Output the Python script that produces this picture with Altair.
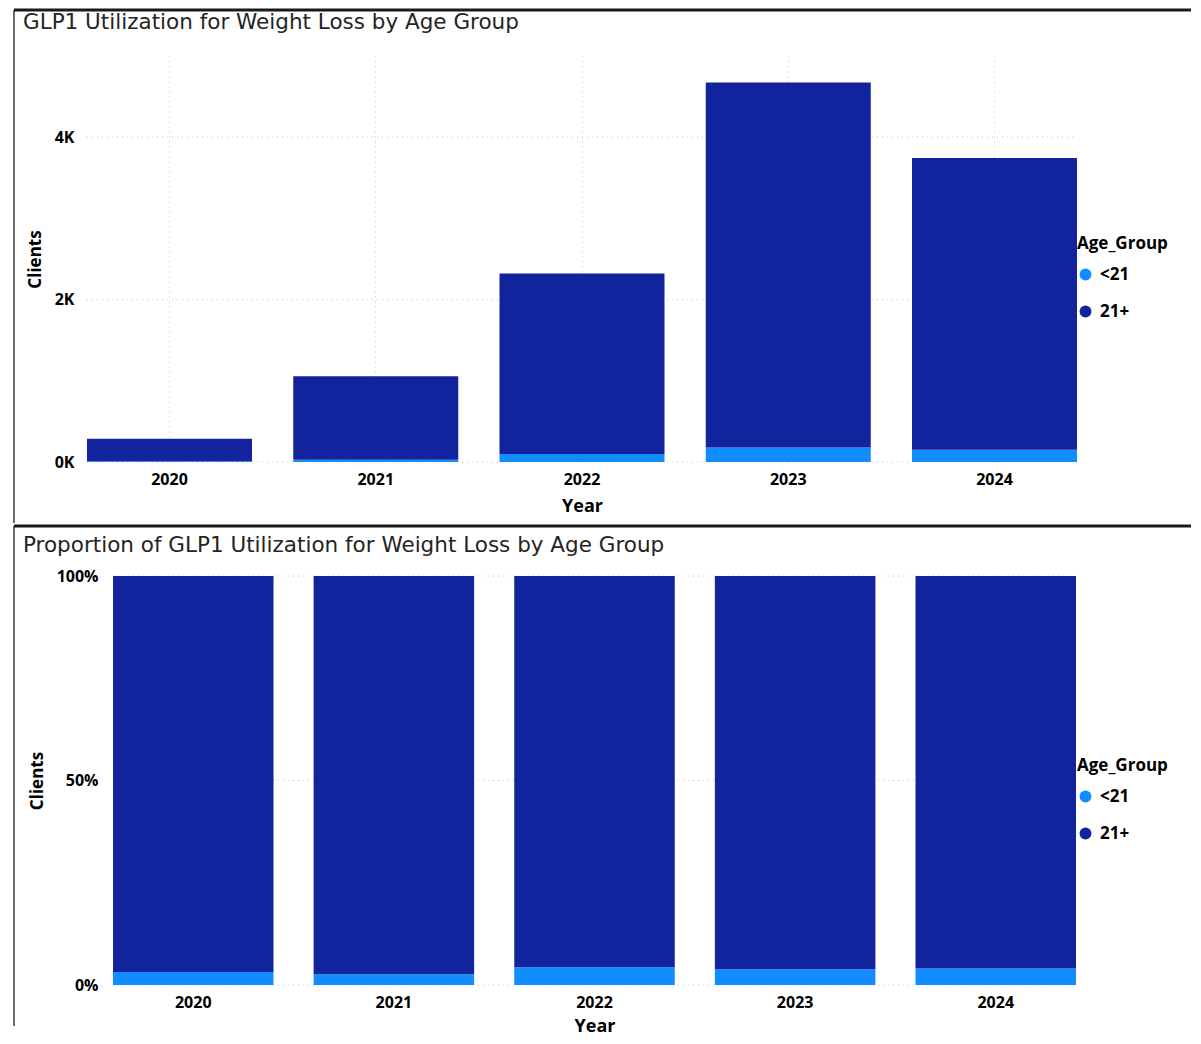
import altair as alt
import pandas as pd

years = ["2020", "2021", "2022", "2023", "2024"]
under21 = [9, 28, 100, 180, 152]
over21 = [276, 1027, 2220, 4495, 3593]
groups = ["<21", "21+"]
colors = ["#118DFF", "#12239E"]

rows = []
for i, y in enumerate(years):
    rows.append({"Year": y, "Age_Group": "<21", "Clients": under21[i], "ord": 0})
    rows.append({"Year": y, "Age_Group": "21+", "Clients": over21[i], "ord": 1})
df = pd.DataFrame(rows)
one = pd.DataFrame({"a": [0]})

TITLE_FONT = "DejaVu Sans"
AX_FONT = "Open Sans"
GRID = "#C8C6C4"


def legend(lx, ly):
    return alt.Legend(
        orient="none", legendX=lx, legendY=ly, title="Age_Group",
        titleFont=AX_FONT, titleFontSize=17, titleFontWeight="bold", titleColor="#000000",
        titlePadding=13, labelFont=AX_FONT, labelFontSize=17, labelFontWeight="bold",
        labelColor="#000000", symbolType="circle", symbolSize=140, symbolStrokeWidth=0,
        labelOffset=6, rowPadding=19,
    )


def panel(title, w, h, xrange, ydomain, yvals, ylabel_expr, stack, xgrid, lx, ly,
          rule_top, rule_bottom, hline_y, title_y, ypad, yoffset, xtitlepad):
    base = alt.Chart(df)
    bars = base.mark_bar().encode(
        x=alt.X("Year:N", sort=years, title="Year",
                scale=alt.Scale(paddingInner=0.2, paddingOuter=0, range=xrange),
                axis=alt.Axis(labelAngle=0, grid=xgrid, bandPosition=0.5, gridDash=[1, 4],
                              gridColor=GRID, domain=False, ticks=False, labelPadding=9,
                              titlePadding=xtitlepad)),
        y=alt.Y("Clients:Q", stack=stack, title="Clients",
                scale=alt.Scale(domain=ydomain, nice=False),
                axis=alt.Axis(values=yvals, labelExpr=ylabel_expr, grid=False,
                              domain=False, ticks=False, labelPadding=ypad,
                              titlePadding=10, offset=yoffset)),
        color=alt.Color("Age_Group:N", scale=alt.Scale(domain=groups, range=colors),
                        legend=legend(lx, ly)),
        order=alt.Order("ord:Q", sort="ascending"),
    )
    grid = alt.Chart(pd.DataFrame({"v": yvals})).mark_rule(
        color=GRID, strokeDash=[1, 4], strokeWidth=1).encode(
        y=alt.Y("v:Q", scale=alt.Scale(domain=ydomain, nice=False)),
        x=alt.value(xrange[0]), x2=alt.value(xrange[1]))
    vline = alt.Chart(one).mark_rule(color="#6b6b6b", strokeWidth=2).encode(
        x=alt.value(-73), y=alt.value(rule_top), y2=alt.value(rule_bottom))
    hline = alt.Chart(one).mark_rule(color="#1a1a1a", strokeWidth=3).encode(
        x=alt.value(-73), x2=alt.value(1104), y=alt.value(hline_y))
    ttl = alt.Chart(one).mark_text(
        text=title, align="left", baseline="middle", font=TITLE_FONT, fontSize=21.5,
        color="#252423").encode(x=alt.value(-64), y=alt.value(title_y))
    return alt.layer(grid, bars, vline, hline, ttl).properties(width=w, height=h)


top = panel("GLP1 Utilization for Weight Loss by Age Group", 990, 406, [0, 990],
            [0, 5000], [0, 2000, 4000], "(datum.value / 1000) + 'K'", "zero", True,
            990, 180, -46, 467, -46, -33, 13, 0, 10)

bottom = panel("Proportion of GLP1 Utilization for Weight Loss by Age Group", 990, 409,
               [26, 989], [0, 1], [0, 0.5, 1], "format(datum.value, '.0%')", "normalize",
               False, 990, 182, -50, 450, -50, -30, 15, -26, 7)

chart = alt.vconcat(top, bottom, spacing=0).resolve_scale(
    color="independent"
).resolve_legend(color="independent").properties(
    padding={"left": 4, "top": 0, "right": 0, "bottom": 0}
).configure_view(stroke=None).configure_axis(
    labelFont=AX_FONT, labelFontSize=16, labelFontWeight="bold", labelColor="#000000",
    titleFont=AX_FONT, titleFontSize=17, titleFontWeight="bold", titleColor="#000000",
).configure_axisX(titleFontSize=18)

chart.save("out.html", embed_options={"renderer": "svg", "actions": False})
